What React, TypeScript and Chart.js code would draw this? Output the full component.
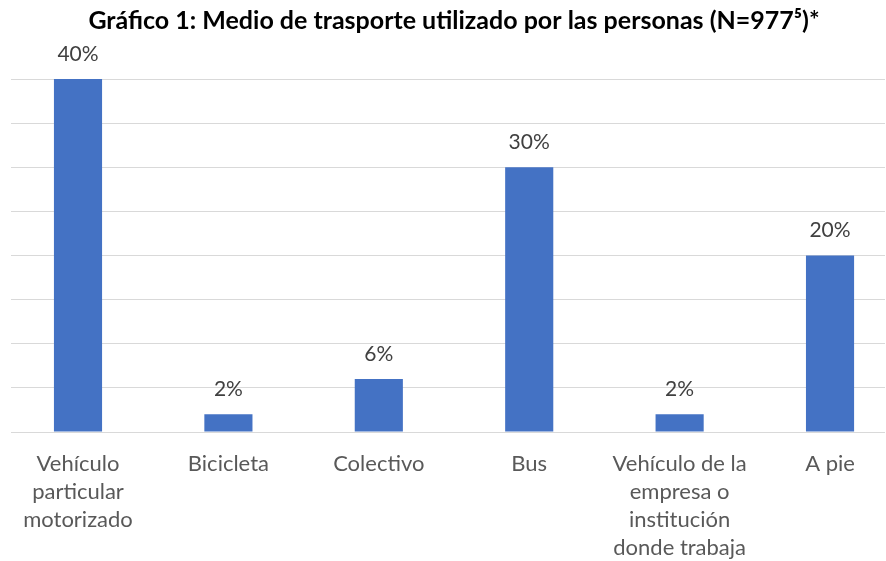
import React, { useEffect, useRef } from "react";
import { Chart, registerables } from "chart.js";

Chart.register(...registerables);

const categories: string[][] = [
  ["Vehículo", "particular", "motorizado"],
  ["Bicicleta"],
  ["Colectivo"],
  ["Bus"],
  ["Vehículo de la", "empresa o", "institución", "donde trabaja"],
  ["A pie"],
];
const values: number[] = [40, 2, 6, 30, 2, 20];
const yMin = 0;
const yMax = 40;
const yStep = 5;
const titleText = "Gráfico 1: Medio de trasporte utilizado por las personas (N=977⁵)*";

const FONT = "Lato, 'Open Sans', sans-serif";

const dataLabels = {
  id: "dataLabels",
  afterDatasetsDraw(chart: any) {
    const ctx = chart.ctx;
    const meta = chart.getDatasetMeta(0);
    ctx.save();
    ctx.font = `21px ${FONT}`;
    ctx.fillStyle = "#404040";
    ctx.textAlign = "center";
    ctx.textBaseline = "middle";
    meta.data.forEach((bar: any, i: number) => {
      ctx.fillText(`${values[i]}%`, bar.x, bar.y - 25);
    });
    ctx.restore();
  },
};

const titlePlugin = {
  id: "customTitle",
  afterDraw(chart: any) {
    const ctx = chart.ctx;
    ctx.save();
    ctx.font = `bold 25px ${FONT}`;
    ctx.fillStyle = "#000000";
    ctx.textAlign = "center";
    ctx.textBaseline = "middle";
    ctx.fillText(titleText, 454, 21);
    ctx.restore();
  },
};

export default function App() {
  const ref = useRef<HTMLCanvasElement>(null);
  useEffect(() => {
    const chart = new Chart(ref.current!, {
      type: "bar",
      data: {
        labels: categories,
        datasets: [
          {
            data: values,
            backgroundColor: "#4472C4",
            categoryPercentage: 1,
            barPercentage: 0.32,
          },
        ],
      },
      options: {
        animation: false,
        responsive: false,
        layout: { padding: { left: 11, right: 1, top: 79, bottom: 0 } },
        plugins: {
          legend: { display: false },
          tooltip: { enabled: false },
          title: { display: false },
        },
        scales: {
          x: {
            offset: false,
            grid: { display: false },
            border: { display: false },
            ticks: {
              color: "#595959",
              font: { family: FONT, size: 22, lineHeight: 1.27 },
              padding: 10,
              maxRotation: 0,
              autoSkip: false,
            },
            afterBuildTicks: (s: any) => {
              // Excel-like category spacing slightly wider than the gridline span
              s._startValue = -0.4455;
              s._valueRange = 5.811;
            },
            afterFit: (s: any) => {
              s.height = 129;
            },
          },
          y: {
            min: yMin,
            max: yMax,
            ticks: { display: false, stepSize: yStep },
            grid: { color: "#d9d9d9", lineWidth: 1, drawTicks: false },
            border: { display: false },
          },
        },
      },
      plugins: [dataLabels, titlePlugin],
    });
    return () => chart.destroy();
  }, []);
  return (
    <div style={{ position: "fixed", left: 0, top: 0, width: 886, height: 561, background: "#fff" }}>
      <canvas ref={ref} width={886} height={561} />
    </div>
  );
}
